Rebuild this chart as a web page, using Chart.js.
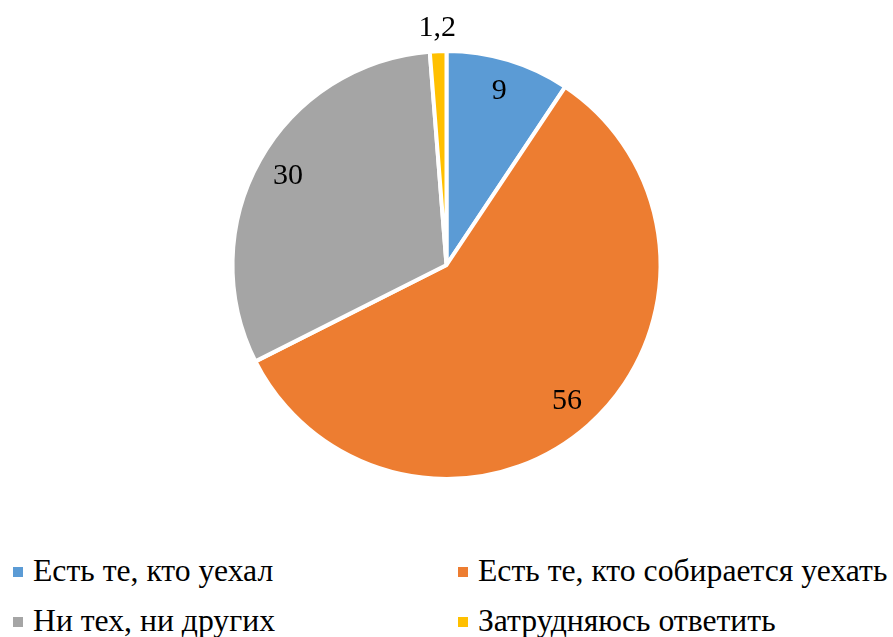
<!DOCTYPE html>
<html>
<head>
<meta charset="utf-8">
<script src="https://cdn.jsdelivr.net/npm/chart.js@4/dist/chart.umd.min.js"></script>
<style>
	html, body { margin: 0; padding: 0; background: #fff; }
	#wrap { position: relative; width: 893px; height: 637px; overflow: hidden; }
	#box { position: absolute; left: 0; top: 0; width: 893px; height: 530px; }
	.item { position: absolute; font-family: 'Liberation Serif', serif; font-size: 31.7px; line-height: 34px; color: #000; white-space: nowrap; }
	.mark { position: absolute; width: 10px; height: 10px; }
</style>
</head>
<body>
<div id="wrap">
	<div id="box"><canvas id="myChart"></canvas></div>
	<div id="legend"></div>
</div>
<script>
const labels = [
	"Есть те, кто уехал",
	"Есть те, кто собирается уехать",
	"Ни тех, ни других",
	"Затрудняюсь ответить",
];
const values = [9, 56, 30, 1.2];
const colors = ["#5B9BD5", "#ED7D31", "#A5A5A5", "#FFC000"];

// value labels: inside at 0.85 r, tiny slices outside
const sliceLabels = {
	id: "sliceLabels",
	afterDatasetsDraw(chart) {
		const ctx = chart.ctx;
		const meta = chart.getDatasetMeta(0);
		ctx.save();
		ctx.font = "30px 'Liberation Serif'";
		ctx.fillStyle = "#000";
		ctx.textAlign = "center";
		ctx.textBaseline = "middle";
		meta.data.forEach((arc, i) => {
			const p = arc.getProps(["x", "y", "startAngle", "endAngle", "outerRadius"], true);
			const mid = (p.startAngle + p.endAngle) / 2;
			const k = values[i] < 5 ? 1.11 : 0.85;
			const x = p.x + Math.cos(mid) * p.outerRadius * k;
			const y = p.y + Math.sin(mid) * p.outerRadius * k;
			ctx.fillText(String(values[i]).replace(".", ","), x, y);
		});
		ctx.restore();
	},
};

const chart = new Chart(document.getElementById("myChart"), {
	type: "pie",
	data: {
		labels: labels,
		datasets: [
			{
				data: values,
				backgroundColor: colors,
				borderColor: "#fff",
				borderWidth: 4,
			},
		],
	},
	options: {
		responsive: true,
		maintainAspectRatio: false,
		animation: false,
		radius: 214,
		layout: { padding: 0 },
		plugins: {
			legend: { display: false },
			tooltip: { enabled: false },
		},
	},
	plugins: [sliceLabels],
});

// two-column legend under the pie
const legend = document.getElementById("legend");
const colX = [13, 458];
const rowY = [567, 617];
labels.forEach((name, i) => {
	const col = i % 2;
	const row = Math.floor(i / 2);
	const m = document.createElement("div");
	m.className = "mark";
	m.style.left = colX[col] + "px";
	m.style.top = rowY[row] + "px";
	m.style.background = colors[i];
	legend.appendChild(m);
	const t = document.createElement("div");
	t.className = "item";
	t.style.left = colX[col] + 20 + "px";
	t.style.top = rowY[row] - 13 + "px";
	t.textContent = name;
	legend.appendChild(t);
});
</script>
</body>
</html>
